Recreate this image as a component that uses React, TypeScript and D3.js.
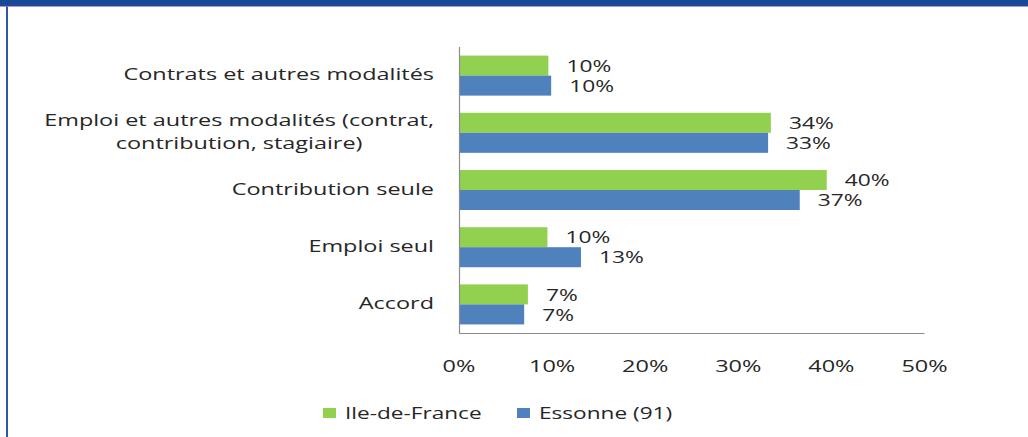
import React, { useEffect, useRef } from "react";
import * as d3 from "d3";

const categories = [
  "Contrats et autres modalités",
  "Emploi et autres modalités (contrat, contribution, stagiaire)",
  "Contribution seule",
  "Emploi seul",
  "Accord",
];
const seriesNames = ["Ile-de-France", "Essonne (91)"];
const idfValues = [9.6, 33.5, 39.5, 9.5, 7.4];
const essValues = [9.9, 33.2, 36.6, 13.1, 7.0];
const idfLabels = ["10%", "34%", "40%", "10%", "7%"];
const essLabels = ["10%", "33%", "37%", "13%", "7%"];
const xTicks = [0, 10, 20, 30, 40, 50];
const tickLabels = ["0%", "10%", "20%", "30%", "40%", "50%"];

const W = 1028;
const H = 437;
const COLORS = ["#92d050", "#4f81bd"];
const FONT = "'Open Sans', sans-serif";
const SX = 1.38;
const SX_CAT = 1.42;
const SX_LEG = 1.33;
const TEXT = "#262626";

function wrap(label: string, maxChars: number): string[] {
  const words = label.split(" ");
  const lines: string[] = [];
  let cur = "";
  for (const w of words) {
    const next = cur ? cur + " " + w : w;
    if (next.length > maxChars && cur) {
      lines.push(cur);
      cur = w;
    } else cur = next;
  }
  if (cur) lines.push(cur);
  return lines;
}

export default function App() {
  const ref = useRef<SVGSVGElement | null>(null);

  useEffect(() => {
    const svg = d3.select(ref.current);
    svg.selectAll("*").remove();

    // frame
    svg.append("rect").attr("x", 0).attr("y", 0).attr("width", W).attr("height", 5).attr("fill", "#164a96");
    svg.append("rect").attr("x", 0).attr("y", 5).attr("width", W).attr("height", 1.5).attr("fill", "#3b3b9c");
    svg.append("rect").attr("x", 6).attr("y", 6.5).attr("width", 2).attr("height", H).attr("fill", "#2b58a8");

    const x = d3.scaleLinear().domain([0, 50]).range([459, 924.5]);
    const y = d3.scaleBand<string>().domain(categories).range([47, 333]).paddingInner(0.3).paddingOuter(0.15);
    const sub = d3.scaleBand<number>().domain([0, 1]).range([0, y.bandwidth()]);

    const series = [idfValues, essValues];
    const labels = [idfLabels, essLabels];

    const g = svg.append("g");
    categories.forEach((c, i) => {
      series.forEach((vals, s) => {
        const y0 = (y(c) as number) + (sub(s) as number);
        g.append("rect")
          .attr("x", x(0))
          .attr("y", y0)
          .attr("width", x(vals[i]) - x(0))
          .attr("height", sub.bandwidth())
          .attr("fill", COLORS[s]);
        g.append("text")
          .attr("transform", `translate(${x(vals[i]) + 18},${y0 + sub.bandwidth() / 2}) scale(${SX},1)`)
          .attr("dominant-baseline", "central")
          .attr("font-family", FONT)
          .attr("font-size", 16.5)
          .attr("fill", TEXT)
          .text(labels[s][i]);
      });
    });

    // axes lines
    svg.append("line").attr("x1", x(0) + 0.5).attr("x2", x(0) + 0.5).attr("y1", 47).attr("y2", 333.5)
      .attr("stroke", "#8c8c8c").attr("stroke-width", 1.2);
    svg.append("line").attr("x1", x(0)).attr("x2", x(50)).attr("y1", 333.5).attr("y2", 333.5)
      .attr("stroke", "#8c8c8c").attr("stroke-width", 1.2);

    // category labels
    const rightEdge = x(0) - 25;
    categories.forEach((c) => {
      const lines = wrap(c, 36);
      const cy = (y(c) as number) + y.bandwidth() / 2 - 2;
      const tg = svg.append("g").attr("transform", `translate(${rightEdge},${cy}) scale(${SX_CAT},1)`);
      if (lines.length === 1) {
        tg.append("text")
          .attr("text-anchor", "end")
          .attr("dominant-baseline", "central")
          .attr("font-family", FONT)
          .attr("font-size", 16.5)
          .attr("fill", TEXT)
          .text(lines[0]);
      } else {
        const t = tg.append("text")
          .attr("text-anchor", "middle")
          .attr("font-family", FONT)
          .attr("font-size", 16.5)
          .attr("fill", TEXT);
        const lh = 23;
        const spans = lines.map((l, k) =>
          t.append("tspan").attr("dominant-baseline", "central").attr("y", (k - (lines.length - 1) / 2) * lh).text(l)
        );
        let maxW = 0;
        spans.forEach((sp) => {
          const n = sp.node() as SVGTSpanElement;
          maxW = Math.max(maxW, n.getComputedTextLength());
        });
        spans.forEach((sp) => sp.attr("x", -maxW / 2));
      }
    });

    // tick labels
    xTicks.forEach((t, i) => {
      svg.append("text")
        .attr("transform", `translate(${x(t)},365) scale(${SX},1)`)
        .attr("text-anchor", "middle")
        .attr("dominant-baseline", "central")
        .attr("font-family", FONT)
        .attr("font-size", 17)
        .attr("fill", TEXT)
        .text(tickLabels[i]);
    });

    // legend
    const legendX = [323, 517];
    seriesNames.forEach((n, s) => {
      svg.append("rect").attr("x", legendX[s]).attr("y", 408).attr("width", 13).attr("height", 10).attr("fill", COLORS[s]);
      svg.append("text")
        .attr("transform", `translate(${legendX[s] + 22},413) scale(${SX_LEG},1)`)
        .attr("dominant-baseline", "central")
        .attr("font-family", FONT)
        .attr("font-size", 17)
        .attr("fill", TEXT)
        .text(n);
    });
  }, []);

  return (
    <svg
      ref={ref}
      width={W}
      height={H}
      style={{ position: "absolute", left: 0, top: 0, background: "#fff" }}
    />
  );
}
